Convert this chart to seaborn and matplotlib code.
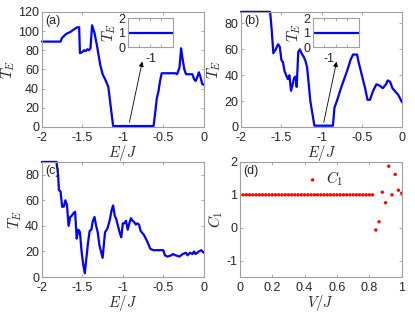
import matplotlib
matplotlib.use("Agg")
import matplotlib.pyplot as plt
import seaborn as sns
import numpy as np
import pandas as pd
from matplotlib.ticker import FuncFormatter

# Panel (a) data
energy_a = [-2.0, -1.77, -1.75, -1.7, -1.65, -1.6, -1.56, -1.54, -1.53, -1.5, -1.48, -1.46,
            -1.44, -1.42, -1.4, -1.38, -1.35, -1.32, -1.3, -1.28, -1.25, -1.22, -1.2, -1.18,
            -1.12, -0.62, -0.6, -0.58, -0.56, -0.54, -0.52, -0.35, -0.33, -0.3, -0.28, -0.26,
            -0.24, -0.22, -0.14, -0.12, -0.1, -0.08, -0.06, -0.04, -0.02, 0.0]
te_a = [89, 89, 93, 97, 99, 102, 104, 104, 77, 78, 80, 79,
        81, 80, 82, 106, 98, 85, 75, 65, 55, 50, 46, 42,
        1, 1, 15, 30, 37, 48, 56, 56, 55, 62, 82, 70,
        60, 55, 55, 50, 48, 52, 57, 52, 45, 44]

# Panel (b) data
energy_b = [-2.0, -1.64, -1.62, -1.6, -1.57, -1.54, -1.52, -1.5, -1.48, -1.46, -1.44, -1.42,
            -1.4, -1.38, -1.36, -1.34, -1.32, -1.31, -1.29, -1.27, -1.25, -1.22, -1.2, -1.18,
            -1.14, -1.09, -0.86, -0.84, -0.8, -0.76, -0.72, -0.68, -0.64, -0.61, -0.56, -0.54,
            -0.5, -0.46, -0.43, -0.4, -0.36, -0.32, -0.28, -0.24, -0.2, -0.18, -0.15, -0.12,
            -0.08, -0.05, 0.0]
te_b = [89, 89, 75, 57, 60, 64, 62, 52, 50, 43, 40, 37,
        40, 28, 33, 38, 39, 31, 58, 60, 57, 54, 51, 46,
        20, 1, 1, 15, 22, 30, 37, 44, 52, 56, 56, 50,
        40, 30, 21, 21, 28, 33, 32, 30, 33, 36, 35, 30,
        27, 25, 19]

# Panel (c) data
energy_c = [-2.0, -1.82, -1.8, -1.79, -1.77, -1.75, -1.73, -1.71, -1.69, -1.67, -1.65, -1.63,
            -1.61, -1.59, -1.57, -1.55, -1.53, -1.51, -1.49, -1.47, -1.45, -1.43, -1.41, -1.39,
            -1.37, -1.35, -1.33, -1.31, -1.29, -1.25, -1.22, -1.19, -1.16, -1.14, -1.12, -1.1,
            -1.08, -1.06, -1.04, -1.02, -1.0, -0.98, -0.96, -0.94, -0.92, -0.9, -0.88, -0.86,
            -0.84, -0.82, -0.8, -0.78, -0.74, -0.7, -0.66, -0.62, -0.5, -0.48, -0.45, -0.4,
            -0.38, -0.35, -0.3, -0.26, -0.22, -0.2, -0.17, -0.14, -0.12, -0.1, -0.06, -0.03, 0.0]
te_c = [90, 90, 80, 68, 67, 55, 55, 60, 56, 40, 47, 48,
        50, 51, 30, 37, 35, 20, 10, 3, 15, 27, 36, 37,
        44, 47, 40, 35, 25, 15, 35, 38, 45, 52, 56, 48,
        45, 40, 35, 31, 42, 42, 44, 37, 42, 46, 44, 43,
        41, 42, 41, 36, 33, 28, 22, 21, 21, 17, 16, 17,
        18, 17, 16, 18, 19, 17, 19, 18, 20, 18, 20, 21, 19]

# Inset data (flat T_E = 1)
inset_e = [-1.1, -0.9]
inset_te = [1, 1]

# Panel (d) data
v_flat = [round(0.02 * i, 2) for i in range(42)]
v_d = v_flat + [0.84, 0.86, 0.88, 0.90, 0.92, 0.94, 0.96, 0.98, 1.00]
c1_d = [1.0] * 42 + [-0.07, 0.18, 1.08, 0.76, 1.87, 1.0, 1.62, 1.14, 1.05]

sns.set_style("ticks")
plt.rcParams["font.family"] = ["Liberation Sans", "DejaVu Sans"]
plt.rcParams["mathtext.fontset"] = "cm"
plt.rcParams["axes.unicode_minus"] = False
plt.rcParams["xtick.direction"] = "in"
plt.rcParams["ytick.direction"] = "in"

fig = plt.figure(figsize=(4.15, 3.12), dpi=100)
ax_a = fig.add_axes([0.101, 0.593, 0.390, 0.369])
ax_b = fig.add_axes([0.581, 0.593, 0.388, 0.369])
ax_c = fig.add_axes([0.101, 0.112, 0.390, 0.369])
ax_d = fig.add_axes([0.578, 0.112, 0.390, 0.369])

fmt = FuncFormatter(lambda v, p: "%g" % v)
box_col = "#a0a0a0"
tick_fs = 9


def style_axis(ax):
    for s in ax.spines.values():
        s.set_visible(True)
        s.set_color(box_col)
        s.set_linewidth(0.8)
    ax.tick_params(labelsize=tick_fs, colors="#262626", length=2.5, width=0.6,
                   top=True, right=True, pad=2)
    ax.tick_params(axis="x", pad=3.5)
    ax.tick_params(axis="both", which="both", color=box_col)
    ax.xaxis.set_major_formatter(fmt)
    ax.yaxis.set_major_formatter(fmt)


panels = [(ax_a, energy_a, te_a, 120, "(a)"),
          (ax_b, energy_b, te_b, 89, "(b)"),
          (ax_c, energy_c, te_c, 90, "(c)")]
for ax, e, t, ytop, lab in panels:
    df = pd.DataFrame({"E": e, "T": t})
    sns.lineplot(data=df, x="E", y="T", ax=ax, color="#0000ff", linewidth=1.6, clip_on=False)
    ax.set_xlim(-2, 0)
    ax.set_ylim(0, ytop)
    ax.set_xticks([-2, -1.5, -1, -0.5, 0])
    ax.set_yticks(np.arange(0, ytop + 1, 20))
    ax.set_xlabel(r"$E/J$", fontsize=10.5, labelpad=-0.5)
    ax.set_ylabel(r"$T_E$", fontsize=11, labelpad=1)
    style_axis(ax)
    ax.text(0.02, 0.97, lab, transform=ax.transAxes, ha="left", va="top", fontsize=9)

# Insets
for rect in ([0.308, 0.849, 0.108, 0.093], [0.754, 0.849, 0.111, 0.093]):
    ins = fig.add_axes(rect)
    sns.lineplot(x=inset_e, y=inset_te, ax=ins, color="#0000ff", linewidth=1.6)
    ins.set_xlim(-1.1, -0.9)
    ins.set_ylim(0, 2)
    ins.set_yticks([0, 1, 2])
    ins.set_xticks([-1.05, -1.0, -0.95])
    ins.set_xlabel("")
    ins.set_ylabel(r"$T_E$", fontsize=11, labelpad=0)
    style_axis(ins)
    ins.tick_params(axis="x", labelbottom=False)

# Arrows
ax_a.annotate("", xy=(-0.753, 71), xytext=(-0.926, 2),
              arrowprops=dict(arrowstyle="-|>", color="black", lw=0.6, mutation_scale=7))
ax_a.text(-0.72, 71, "-1", fontsize=9, ha="left", va="center")
ax_b.annotate("", xy=(-0.807, 52.6), xytext=(-0.981, 1.5),
              arrowprops=dict(arrowstyle="-|>", color="black", lw=0.6, mutation_scale=7))
ax_b.text(-0.84, 52.6, "-1", fontsize=9, ha="right", va="center")

# Panel (d)
df_d = pd.DataFrame({"V": v_d, "C1": c1_d})
sns.scatterplot(data=df_d, x="V", y="C1", ax=ax_d, color="#ff0000", s=6,
                edgecolor="none", label=r"$C_1$")
ax_d.set_xlim(0, 1)
ax_d.set_ylim(-1.5, 2)
ax_d.set_xticks([0, 0.2, 0.4, 0.6, 0.8, 1])
ax_d.set_yticks([-1, 0, 1, 2])
ax_d.set_xlabel(r"$V/J$", fontsize=10.5, labelpad=-0.5)
ax_d.set_ylabel(r"$C_1$", fontsize=11, labelpad=1)
style_axis(ax_d)
ax_d.text(0.02, 0.97, "(d)", transform=ax_d.transAxes, ha="left", va="top", fontsize=9)
ax_d.legend(loc="center left", bbox_to_anchor=(0.355, 0.85), frameon=False,
            fontsize=11, handletextpad=0.4, handlelength=1.0, markerscale=1.0, borderpad=0)

fig.savefig("out.png", dpi=100)
